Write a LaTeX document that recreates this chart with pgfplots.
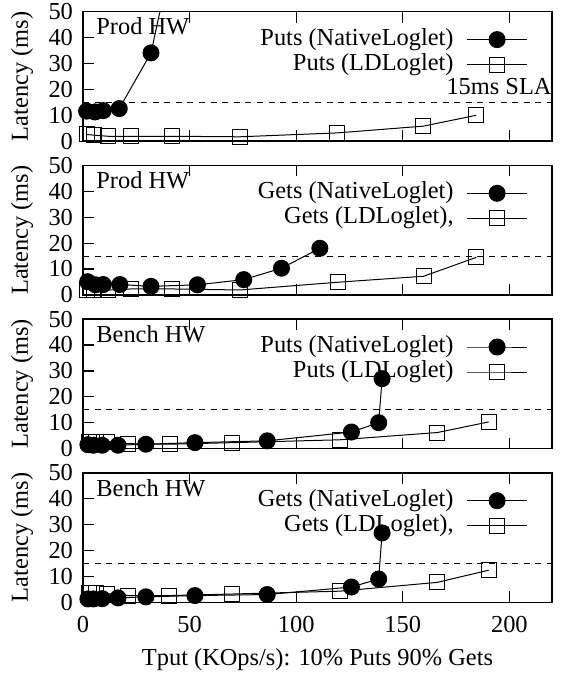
\documentclass[border=0pt]{standalone}
\usepackage{fontspec}
\setmainfont{Liberation Serif}
\usepackage{pgfplots}
\pgfplotsset{compat=1.18}

\pgfplotsset{
  lat/.style={
    scale only axis, width=234.5pt, height=64.75pt,
    anchor=north west,
    xmin=0, xmax=220, ymin=0, ymax=50,
    xtick={0,50,...,200}, ytick={0,10,...,50},
    tick align=inside, xtick pos=both, ytick pos=left,
    major tick length=5.5pt,
    /pgf/number format/assume math mode=true,
    font=\fontsize{12.2}{14}\selectfont,
    axis line style={line width=0.7pt},
    every tick/.style={black, line width=0.6pt},
    yticklabel style={xshift=-1.5pt},
    xticklabel style={yshift=-3.5pt},
    xlabel style={yshift=-1pt},
    clip mode=individual,
    legend plot pos=right,
    legend cell align=right,
    legend style={draw=none, fill=none, at={(rel axis cs:1,1)}, xshift=-12pt, yshift=-7.5pt,
      anchor=north east, inner sep=0pt, column sep=6.5pt, row sep=0pt,
      nodes={inner sep=0pt, text height=9pt, text depth=3.5pt}},
    legend image code/.code={\draw[mark repeat=2,mark phase=2,##1] plot coordinates {(0pt,0pt) (15pt,0pt) (30pt,0pt)};},
    ylabel={Latency (ms)},
    every axis y label/.style={at={(rel axis cs:0,0.5)}, anchor=center, xshift=-30.5pt, rotate=90},
  },
  nat/.style={black, line width=0.5pt, mark=*, mark size=4pt, mark options={solid, fill=black}},
  ld/.style={black, line width=0.5pt, mark=square, mark size=3.75pt, mark options={solid}},
}
\newcommand{\sla}{\draw[black, line width=0.5pt, dash pattern=on 3pt off 2.8pt] (axis cs:0,15) -- (axis cs:220,15);}

\begin{document}
\begin{tikzpicture}

% Prod HW, puts
\begin{axis}[lat, at={(41.5pt,-5.85pt)}, xticklabels={}]
\sla
\node[anchor=west, inner sep=0pt, xshift=6.5pt, yshift=-7.5pt] at (rel axis cs:0,1) {Prod HW};
\node[anchor=east, inner sep=0pt] at (axis cs:220,21) {15ms SLA};
\addplot[nat, mark=none, forget plot] coordinates {
  (1.7,11.6) (5.6,11.3) (9.5,11.8) (17.0,12.6) (31.9,34.1) (53.7,117)
};
\addplot[nat, only marks, forget plot] coordinates {
  (1.7,11.6) (5.6,11.3) (9.5,11.8) (17.0,12.6) (31.9,34.1)
};
\addlegendimage{nat}
\addlegendentry{Puts (NativeLoglet)}
\addplot[ld] coordinates {
  (1.7,2.6) (5.3,2.3) (11.9,1.9) (22.5,1.9) (41.6,1.9) (73.6,1.7) (119.2,3.2) (159.5,5.8) (184.5,10.0)
};
\addlegendentry{Puts (LDLoglet)}
\end{axis}

% Prod HW, gets
\begin{axis}[lat, at={(41.5pt,-82.7pt)}, xticklabels={}]
\sla
\node[anchor=west, inner sep=0pt, xshift=6.5pt, yshift=-7.5pt] at (rel axis cs:0,1) {Prod HW};
\addplot[nat] coordinates {
  (2.2,5.1) (5.9,3.9) (9.5,4.0) (17.3,4.0) (31.9,3.3) (53.7,3.9) (75.4,5.9) (93.1,10.3) (111.1,18.0)
};
\addlegendentry{Gets (NativeLoglet)}
\addplot[ld] coordinates {
  (1.7,2.0) (5.3,2.0) (11.9,1.9) (22.5,2.3) (41.6,2.3) (73.6,1.9) (119.6,4.9) (159.8,7.2) (184.5,14.5)
};
\addlegendentry{Gets (LDLoglet),}
\end{axis}

% Bench HW, puts
\begin{axis}[lat, at={(41.5pt,-159.55pt)}, xticklabels={}]
\sla
\node[anchor=west, inner sep=0pt, xshift=6.5pt, yshift=-7.5pt] at (rel axis cs:0,1) {Bench HW};
\addplot[nat] coordinates {
  (2.3,1.5) (4.9,1.3) (9.0,1.3) (16.4,1.3) (29.5,1.7) (52.5,2.3) (86.4,3.0) (125.9,6.4) (138.7,10.0) (140.3,27.0)
};
\addlegendentry{Puts (NativeLoglet)}
\addplot[ld] coordinates {
  (2.8,2.6) (6.0,2.6) (11.1,2.6) (21.2,1.9) (40.8,1.7) (70.0,2.3) (120.4,3.4) (166.2,6.2) (190.3,10.3)
};
\addlegendentry{Puts (LDLoglet)}
\end{axis}

% Bench HW, gets
\begin{axis}[lat, at={(41.5pt,-236.4pt)},
  xlabel={Tput (KOps/s): 10\% Puts 90\% Gets}]
\sla
\node[anchor=west, inner sep=0pt, xshift=6.5pt, yshift=-7.5pt] at (rel axis cs:0,1) {Bench HW};
\addplot[nat] coordinates {
  (2.3,1.3) (4.9,1.3) (9.0,1.4) (16.4,1.7) (29.5,2.1) (52.5,2.6) (86.4,3.0) (125.9,5.9) (138.7,9.0) (140.3,26.8)
};
\addlegendentry{Gets (NativeLoglet)}
\addplot[ld] coordinates {
  (2.8,3.6) (6.0,3.5) (11.1,3.4) (21.2,2.6) (40.5,2.6) (70.0,3.2) (120.4,4.3) (166.2,7.7) (190.3,12.4)
};
\addlegendentry{Gets (LDLoglet),}
\end{axis}

\pgfresetboundingbox
\useasboundingbox (0,0) rectangle (280.5pt,-339.5pt);
\end{tikzpicture}
\end{document}
